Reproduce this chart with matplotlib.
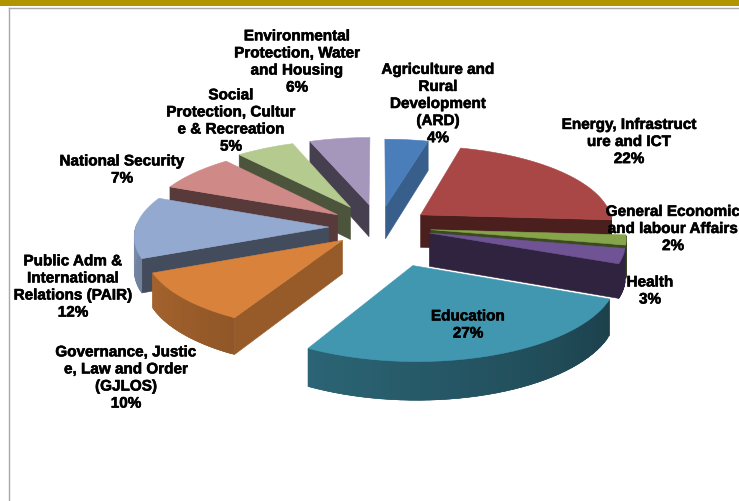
import numpy as np
import matplotlib
matplotlib.use("Agg")
import matplotlib.pyplot as plt
import matplotlib.patheffects as pe
from matplotlib.colors import to_rgb

# budget share per sector, clockwise from 12 o'clock
SECTORS = ["Agriculture and\nRural\nDevelopment\n(ARD)",
           "Energy, Infrastruct\nure and ICT",
           "General Economic\nand labour Affairs",
           "Health",
           "Education",
           "Governance, Justic\ne, Law and Order\n(GJLOS)",
           "Public Adm &\nInternational\nRelations (PAIR)",
           "National Security",
           "Social\nProtection, Cultur\ne & Recreation",
           "Environmental\nProtection, Water\nand Housing"]
SHARES = [4.0, 21.7, 2.0, 3.0, 26.6, 10.45, 12.45, 7.45, 5.45, 5.6]

COLORS = ['#4a7ebb', '#a84745', '#86a44a', '#6f5395', '#4197b0',
          '#d8823b', '#93a9cf', '#cf8a88', '#b5ca8e', '#a597bc']
EXPLODE = [0.27, 0.27, 0.27, 0.27, 0.50, 0.25, 0.26, 0.27, 0.30, 0.30]
FACE_SHADE = [0.75, 0.44, 0.45, 0.42, 0.42, 0.70, 0.45, 0.42, 0.42, 0.42]
DRAW_ORDER = [0, 9, 8, 7, 6, 1, 2, 3, 5, 4]

# label block centres in pixels
LABEL_X = [438, 629, 673, 650, 468, 126, 73, 122, 231, 297]
LABEL_Y = [105, 143, 230, 292, 326, 379, 288, 171, 122, 63]

CX, CY = 379.0, 228.0
RX, RY = 193.0, 78.0
PERSP = 0.10
DEPTH = 33.0


def project(x, y):
    s = 1.0 / (1.0 + PERSP * y)
    return CX + RX * x * s, CY - RY * y * s, s


def shade(color, f):
    return tuple(np.array(to_rgb(color)) * f)


def quad(ax, xs, ys, color, z):
    ax.fill(xs, ys, facecolor=color, edgecolor=color, linewidth=0.4, zorder=z)


def draw_slice(ax, t0, t1, explode, color, face_f, z):
    mid = (t0 + t1) / 2
    ox, oy = explode * np.sin(mid), explode * np.cos(mid)
    theta = np.linspace(t0, t1, 40)
    rim_x, rim_y, rim_s = project(ox + np.sin(theta), oy + np.cos(theta))
    ax_, ay_, as_ = project(ox, oy)

    # radial faces first, only the ones turned to the viewer
    for t, visible in ((t0, np.sin(t0) < 0), (t1, np.sin(t1) > 0)):
        if not visible:
            continue
        ex, ey, es = project(ox + np.sin(t), oy + np.cos(t))
        quad(ax, [ax_, ex, ex, ax_],
             [ay_, ey, ey + DEPTH * es, ay_ + DEPTH * as_],
             shade(color, face_f), z)

    # outer wall as overlapping strips so the shading runs along the arc
    for i in range(len(theta) - 1):
        m = (theta[i] + theta[i + 1]) / 2
        if np.cos(m) > 0.02:
            continue
        j = min(i + 2, len(theta) - 1)
        f = 0.42 + 0.40 * np.clip((np.degrees(m) - 110) / 160, 0, 1)
        quad(ax, [rim_x[i], rim_x[j], rim_x[j], rim_x[i]],
             [rim_y[i], rim_y[j], rim_y[j] + DEPTH * rim_s[j],
              rim_y[i] + DEPTH * rim_s[i]],
             shade(color, f), z)

    quad(ax, np.r_[ax_, rim_x], np.r_[ay_, rim_y], color, z + 0.5)


fig = plt.figure(figsize=(7.39, 5.02), dpi=100)
ax = fig.add_axes([0, 0, 1, 1])
ax.set_xlim(0, 739)
ax.set_ylim(502, 0)
ax.axis('off')

# slide frame
ax.fill([0, 739, 739, 0], [0, 0, 7, 7], color='#b09500', lw=0, zorder=1)
ax.plot([9, 739], [9, 9], color='#a8a8a8', lw=1.0, zorder=1)
ax.plot([9, 9], [9, 502], color='#a8a8a8', lw=1.0, zorder=1)

total = float(sum(SHARES))
edges = 2 * np.pi * np.r_[0, np.cumsum(SHARES)] / total

for n, i in enumerate(DRAW_ORDER):
    draw_slice(ax, edges[i], edges[i + 1], EXPLODE[i], COLORS[i],
               FACE_SHADE[i], 2 + n)

for name, share, x, y in zip(SECTORS, SHARES, LABEL_X, LABEL_Y):
    t = ax.text(x, y, "%s\n%.0f%%" % (name, share), ha='center', va='center',
                fontsize=11.0, fontweight='bold', family='Liberation Sans',
                linespacing=1.28, color='black', zorder=30)
    t.set_path_effects([pe.withStroke(linewidth=0.4, foreground='black')])

fig.savefig('out.png', dpi=100)
